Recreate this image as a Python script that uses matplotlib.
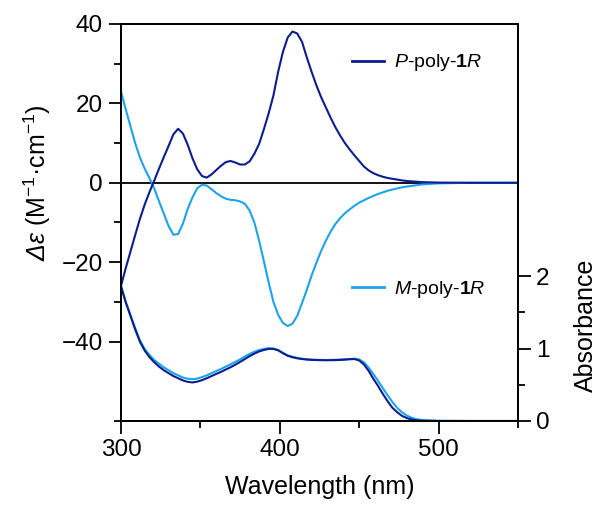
import numpy as np
import matplotlib
matplotlib.use("Agg")
import matplotlib.pyplot as plt
from matplotlib.lines import Line2D

plt.rcParams['font.family'] = ['Liberation Sans', 'DejaVu Sans']
plt.rcParams['mathtext.fontset'] = 'custom'
plt.rcParams['mathtext.rm'] = 'Liberation Sans'
plt.rcParams['mathtext.it'] = 'Liberation Sans:italic'
plt.rcParams['mathtext.bf'] = 'Liberation Sans:bold'
# italic slot for the greek symbols (mathit keeps capital greek upright)
plt.rcParams['mathtext.sf'] = 'Liberation Sans:italic'
plt.rcParams['axes.linewidth'] = 1.3

# CD spectra (delta epsilon, M^-1 cm^-1)
wl_cd = [300, 303, 306, 309, 312, 315, 318, 321, 324, 327,
         330, 333, 336, 339, 342, 345, 348, 351, 354, 357,
         360, 363, 366, 369, 372, 375, 378, 381, 384, 387,
         390, 393, 396, 399, 402, 405, 408, 411, 414, 417,
         420, 423, 426, 429, 432, 435, 438, 441, 444, 447,
         450, 453, 456, 459, 462, 465, 468, 471, 474, 477,
         480, 490, 500, 520, 550]
cd_P = [-26.0, -21.5, -17.3, -13.1, -9.0, -5.4, -2.3, 0.6, 3.6, 6.5,
        9.3, 12.2, 13.6, 12.4, 9.6, 6.2, 3.4, 1.7, 1.3, 2.1,
        3.2, 4.3, 5.2, 5.5, 5.1, 4.6, 4.6, 5.4, 7.3, 9.8,
        13.5, 17.5, 22.0, 28.0, 33.0, 36.6, 38.1, 37.6, 35.5, 31.6,
        28.0, 24.6, 21.6, 19.0, 16.4, 14.0, 11.9, 10.0, 8.4, 6.9,
        5.5, 4.1, 3.1, 2.4, 1.9, 1.5, 1.2, 1.0, 0.8, 0.6,
        0.45, 0.15, 0.05, 0.0, 0.0]
cd_M = [23.0, 18.5, 14.2, 9.9, 6.3, 3.5, 1.1, -1.5, -4.7, -7.8,
        -10.9, -13.1, -12.9, -10.3, -6.6, -3.7, -1.4, -0.5, -0.7, -1.6,
        -2.6, -3.4, -4.0, -4.3, -4.4, -4.7, -5.3, -7.0, -10.0, -14.6,
        -19.8, -25.1, -30.0, -33.3, -35.3, -36.1, -35.5, -33.5, -30.3, -27.0,
        -23.4, -20.2, -17.2, -14.6, -12.3, -10.4, -8.9, -7.7, -6.7, -5.8,
        -5.0, -4.4, -3.8, -3.3, -2.8, -2.4, -2.0, -1.7, -1.4, -1.15,
        -0.95, -0.4, -0.15, 0.0, 0.0]

# UV-vis absorbance
wl_abs = [300, 303, 306, 309, 312, 315, 318, 321, 324, 327,
          330, 333, 336, 339, 342, 345, 348, 351, 354, 357,
          360, 363, 366, 369, 372, 375, 378, 381, 384, 387,
          390, 393, 396, 399, 402, 405, 408, 411, 414, 417,
          420, 425, 430, 435, 440,
          444, 447, 450, 453, 456, 459, 462, 465, 468, 471,
          474, 477, 480, 483, 486, 490, 500, 520, 550]
abs_P = [1.86, 1.64, 1.45, 1.26, 1.09, 0.97, 0.88, 0.81, 0.75, 0.70,
         0.66, 0.62, 0.59, 0.56, 0.54, 0.532, 0.543, 0.563, 0.59, 0.62,
         0.65, 0.678, 0.71, 0.742, 0.777, 0.815, 0.855, 0.895, 0.93, 0.96,
         0.98, 0.995, 0.995, 0.975, 0.935, 0.90, 0.88, 0.865, 0.855, 0.848,
         0.843, 0.84, 0.838, 0.84, 0.845,
         0.852, 0.855, 0.835, 0.78, 0.69, 0.58, 0.48, 0.37, 0.27, 0.18,
         0.12, 0.07, 0.04, 0.02, 0.01, 0.003, 0.0, 0.0, 0.0]
abs_M = [1.86, 1.64, 1.46, 1.28, 1.11, 0.99, 0.91, 0.84, 0.79, 0.74,
         0.70, 0.66, 0.63, 0.60, 0.584, 0.577, 0.585, 0.605, 0.63, 0.66,
         0.69, 0.717, 0.75, 0.782, 0.815, 0.85, 0.89, 0.925, 0.955, 0.98,
         0.995, 1.005, 1.0, 0.98, 0.94, 0.905, 0.885, 0.87, 0.86, 0.852,
         0.847, 0.843, 0.842, 0.845, 0.85,
         0.856, 0.86, 0.85, 0.81, 0.735, 0.645, 0.55, 0.45, 0.35, 0.26,
         0.18, 0.12, 0.075, 0.045, 0.025, 0.012, 0.003, 0.0, 0.0]

dark = '#0c1d8e'
light = '#1ca3ec'

fig = plt.figure(figsize=(5.98, 5.08), dpi=100)
ax = fig.add_axes([0.2023, 0.1713, 0.8662 - 0.2023, 0.9528 - 0.1713])
ax2 = ax.twinx()

ax.axhline(0, color='black', lw=1.3, zorder=1)
ax.plot(wl_cd, cd_P, color=dark, lw=1.5, zorder=3)
ax.plot(wl_cd, cd_M, color=light, lw=1.5, zorder=2)
ax2.plot(wl_abs, abs_M, color=light, lw=1.5)
ax2.plot(wl_abs, abs_P, color=dark, lw=1.5)

ax.set_xlim(300, 550)
ax.set_ylim(-60, 40)
ax2.set_ylim(0, 5.48)

ax.set_xticks([300, 400, 500])
ax.set_xticks([350, 450, 550], minor=True)
ax.set_yticks([-40, -20, 0, 20, 40])
ax.set_yticks([-60, -30, -10, 10, 30], minor=True)
ax2.set_yticks([0, 1, 2])
ax2.set_yticks([0.5, 1.5], minor=True)

for a in (ax, ax2):
    a.tick_params(which='major', direction='out', length=9, width=1.3, labelsize=17.5, pad=4)
    a.tick_params(which='minor', direction='out', length=5, width=1.3)

ax.set_xlabel('Wavelength (nm)', fontsize=18, labelpad=10)
ax.set_ylabel(r'$\mathsf{Δε}$ (M$^{-1}$·cm$^{-1}$)', fontsize=18)
ax.yaxis.set_label_coords(-0.17, 0.60)
ax2.set_ylabel('Absorbance', fontsize=18)
ax2.yaxis.set_label_coords(1.14, 0.24)

leg_kw = dict(frameon=False, fontsize=14, handlelength=1.65, handletextpad=0.5,
              borderpad=0, borderaxespad=0, loc='center left')
leg1 = ax2.legend([Line2D([], [], color=dark, lw=2)], [r'$\mathit{P}$-poly-$\mathbf{1}\mathit{R}$'],
                  bbox_to_anchor=(0.582, 0.902), **leg_kw)
ax2.add_artist(leg1)
ax2.legend([Line2D([], [], color=light, lw=2)], [r'$\mathit{M}$-poly-$\mathbf{1}\mathit{R}$'],
           bbox_to_anchor=(0.582, 0.332), **leg_kw)

fig.savefig('out.png', dpi=100)
